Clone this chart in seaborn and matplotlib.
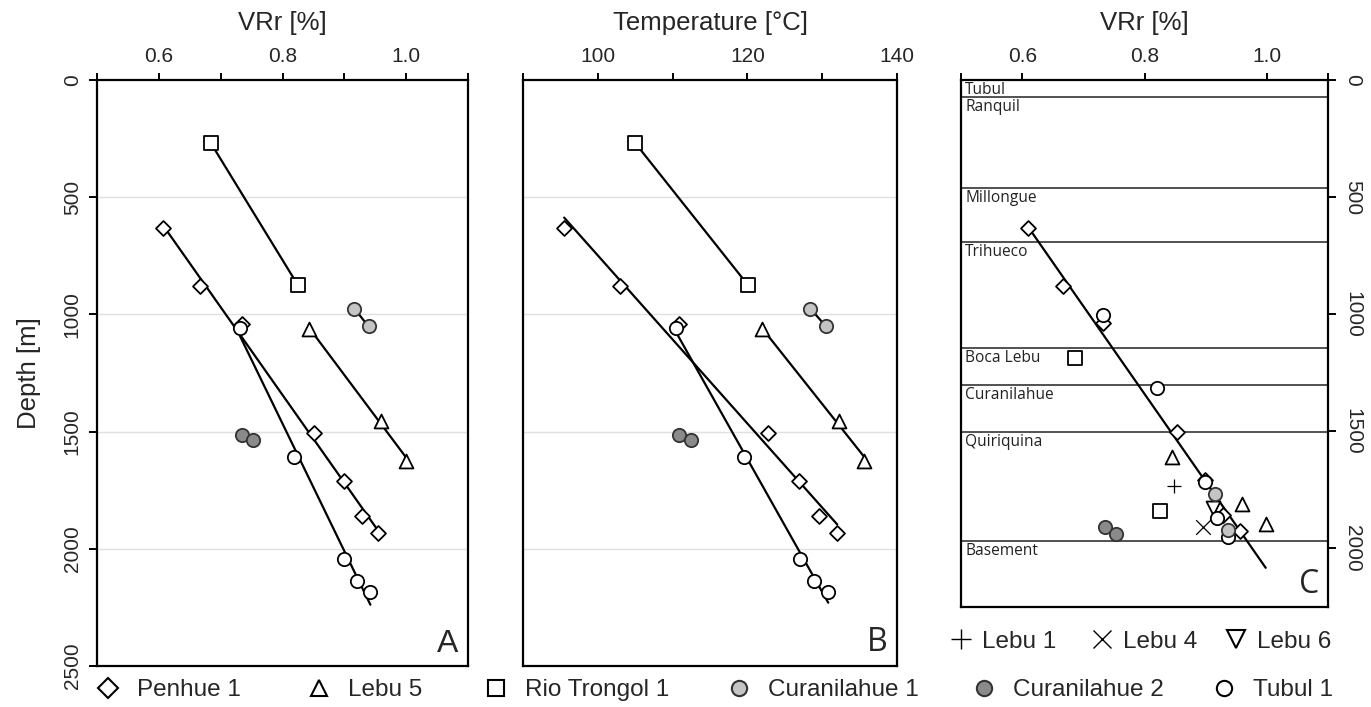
import numpy as np
import pandas as pd
import matplotlib
matplotlib.use("Agg")
import matplotlib.pyplot as plt
from matplotlib.lines import Line2D
import seaborn as sns

# ---------------- data ----------------
# Panels A and B: VRr [%], temperature [°C] and depth [m] per well
penhue_depth = [633, 880, 1040, 1504, 1709, 1859, 1932]
penhue_vr = [0.607, 0.666, 0.734, 0.851, 0.899, 0.928, 0.955]
penhue_temp = [95.5, 102.9, 110.8, 122.7, 126.9, 129.6, 132.0]

lebu5_depth = [1062, 1453, 1624]
lebu5_vr = [0.843, 0.960, 1.000]
lebu5_temp = [121.9, 132.3, 135.6]

rio_depth = [269, 876]
rio_vr = [0.684, 0.825]
rio_temp = [105.0, 120.1]

cur1_depth = [975, 1051]
cur1_vr = [0.916, 0.939]
cur1_temp = [128.4, 130.5]

cur2_depth = [1513, 1534]
cur2_vr = [0.734, 0.752]
cur2_temp = [110.8, 112.5]

tubul_depth = [1060, 1610, 2043, 2137, 2184]
tubul_vr = [0.731, 0.819, 0.900, 0.921, 0.942]
tubul_temp = [110.5, 119.5, 127.0, 128.9, 130.8]

# Panel C: VRr vs depth (all wells)
c_penhue_vr = [0.609, 0.667, 0.732, 0.853, 0.899, 0.928, 0.956]
c_penhue_depth = [632, 880, 1038, 1504, 1709, 1859, 1927]
c_tubul_vr = [0.732, 0.820, 0.899, 0.918, 0.936]
c_tubul_depth = [1004, 1316, 1718, 1872, 1953]
c_lebu5_vr = [0.845, 0.959, 0.998]
c_lebu5_depth = [1611, 1812, 1897]
c_rio_vr = [0.686, 0.825]
c_rio_depth = [1188, 1838]
c_cur1_vr = [0.915, 0.936]
c_cur1_depth = [1769, 1919]
c_cur2_vr = [0.735, 0.753]
c_cur2_depth = [1910, 1940]
c_lebu1_vr = [0.848]
c_lebu1_depth = [1735]
c_lebu4_vr = [0.895]
c_lebu4_depth = [1910]
c_lebu6_vr = [0.912]
c_lebu6_depth = [1829]

formation_names = ["Tubul", "Ranquil", "Millongue", "Trihueco", "Boca Lebu",
                   "Curanilahue", "Quiriquina", "Basement"]
formation_tops = [0, 73, 460, 693, 1142, 1300, 1504, 1966]

vr_ticks = [0.5, 0.6, 0.7, 0.8, 0.9, 1.0, 1.1]
vr_labels = ["", "0.6", "", "0.8", "", "1.0", ""]
vr_ticks_c = [0.5, 0.6, 0.8, 1.0, 1.1]
vr_labels_c = ["", "0.6", "0.8", "1.0", ""]
temp_ticks = [90, 100, 110, 120, 130, 140]
temp_labels = ["", "100", "", "120", "", "140"]
depth_ticks = [0, 500, 1000, 1500, 2000, 2500]
depth_ticks_c = [0, 500, 1000, 1500, 2000]

# ---------------- style ----------------
sns.set_theme(style="white")
plt.rcParams["font.family"] = ["Liberation Sans", "DejaVu Sans"]

LIGHT = "#c4c4c4"
DARK = "#8a8a8a"
EW = 1.3

styles = {
    "Penhue 1": dict(marker="D", s=58, color="white", edgecolor="black", linewidth=EW),
    "Lebu 5": dict(marker="^", s=100, color="white", edgecolor="black", linewidth=EW),
    "Rio Trongol 1": dict(marker="s", s=110, color="white", edgecolor="black", linewidth=EW),
    "Curanilahue 1": dict(marker="o", s=92, color=LIGHT, edgecolor="#333333", linewidth=EW),
    "Curanilahue 2": dict(marker="o", s=92, color=DARK, edgecolor="#333333", linewidth=EW),
    "Tubul 1": dict(marker="o", s=92, color="white", edgecolor="black", linewidth=EW),
    "Lebu 1": dict(marker="+", s=110, color="black", linewidth=0.9),
    "Lebu 4": dict(marker="x", s=110, color="black", linewidth=0.9),
    "Lebu 6": dict(marker="v", s=100, color="white", edgecolor="black", linewidth=EW),
}

fig = plt.figure(figsize=(13.71, 7.07), dpi=100)
axA = fig.add_axes([0.0708, 0.058, 0.2706, 0.8288])
axB = fig.add_axes([0.3815, 0.058, 0.2728, 0.8288])
axC = fig.add_axes([0.7010, 0.1414, 0.2677, 0.7454])

TICK_FS = 15
LAB_FS = 18.5


def frame(ax):
    for sp in ax.spines.values():
        sp.set_visible(True)
        sp.set_color("black")
        sp.set_linewidth(1.6)
    ax.xaxis.tick_top()
    ax.xaxis.set_label_position("top")
    ax.tick_params(axis="x", which="both", direction="out", length=5, width=1.4,
                   color="black", labelsize=TICK_FS, pad=5, top=True, bottom=False)


def fit(ax, x, y):
    sns.regplot(x=np.asarray(x), y=np.asarray(y), ax=ax, scatter=False, ci=None,
                truncate=True, color="black", line_kws=dict(linewidth=1.6, zorder=2))


def pts(ax, x, y, name):
    sns.scatterplot(x=np.asarray(x), y=np.asarray(y), ax=ax, zorder=3, legend=False,
                    **styles[name])


# ---------------- panel A ----------------
for d, v in [(rio_depth, rio_vr), (penhue_depth, penhue_vr), (tubul_depth, tubul_vr),
             (lebu5_depth, lebu5_vr), (cur1_depth, cur1_vr)]:
    fit(axA, v, d)
for d, v, n in [
    (rio_depth, rio_vr, "Rio Trongol 1"),
    (penhue_depth, penhue_vr, "Penhue 1"),
    (lebu5_depth, lebu5_vr, "Lebu 5"),
    (cur1_depth, cur1_vr, "Curanilahue 1"),
    (cur2_depth, cur2_vr, "Curanilahue 2"),
    (tubul_depth, tubul_vr, "Tubul 1"),
]:
    pts(axA, v, d, n)

frame(axA)
axA.set_xlim(0.5, 1.1)
axA.set_ylim(2500, 0)
axA.set_xticks(vr_ticks)
axA.set_xticklabels(vr_labels)
axA.set_yticks(depth_ticks)
axA.set_yticklabels([str(t) for t in depth_ticks], rotation=90, va="center")
axA.tick_params(axis="y", direction="out", length=6, width=1.4, color="black",
                labelsize=TICK_FS, pad=5, left=True)
axA.set_xlabel("VRr [%]", fontsize=LAB_FS, labelpad=12)
axA.set_ylabel("Depth [m]", fontsize=LAB_FS, labelpad=16)
for yv in depth_ticks[1:-1]:
    axA.axhline(yv, color="#e0e0e0", linewidth=1.0, zorder=0)
axA.text(0.975, 0.012, "A", transform=axA.transAxes, ha="right", va="bottom",
         fontsize=23)

# ---------------- panel B ----------------
for d, t in [(rio_depth, rio_temp), (penhue_depth, penhue_temp),
             (tubul_depth, tubul_temp), (lebu5_depth, lebu5_temp),
             (cur1_depth, cur1_temp)]:
    fit(axB, t, d)
for d, t, n in [
    (rio_depth, rio_temp, "Rio Trongol 1"),
    (penhue_depth, penhue_temp, "Penhue 1"),
    (lebu5_depth, lebu5_temp, "Lebu 5"),
    (cur1_depth, cur1_temp, "Curanilahue 1"),
    (cur2_depth, cur2_temp, "Curanilahue 2"),
    (tubul_depth, tubul_temp, "Tubul 1"),
]:
    pts(axB, t, d, n)

frame(axB)
axB.set_xlim(90, 140)
axB.set_ylim(2500, 0)
axB.set_xticks(temp_ticks)
axB.set_xticklabels(temp_labels)
axB.set_yticks([])
axB.set_ylabel("")
axB.set_xlabel("Temperature [°C]", fontsize=LAB_FS, labelpad=12)
for yv in depth_ticks[1:-1]:
    axB.axhline(yv, color="#e0e0e0", linewidth=1.0, zorder=0)
axB.text(0.975, 0.012, "B", transform=axB.transAxes, ha="right", va="bottom",
         fontsize=23, family=["Open Sans", "DejaVu Sans"])

# ---------------- panel C ----------------
c_all_vr = np.array(c_penhue_vr + c_tubul_vr + c_lebu5_vr + c_rio_vr + c_cur1_vr
                    + c_cur2_vr + c_lebu1_vr + c_lebu4_vr + c_lebu6_vr)
# trend line: least-squares fit of the Penhue 1 profile, drawn across the data range
slope, intercept = np.polyfit(c_penhue_vr, c_penhue_depth, 1)
trend_x = np.array([min(c_penhue_vr), c_all_vr.max()])
sns.lineplot(x=trend_x, y=slope * trend_x + intercept, ax=axC, color="black",
             linewidth=1.6, zorder=2, sort=False, estimator=None)

for v, d, n in [
    (c_rio_vr, c_rio_depth, "Rio Trongol 1"),
    (c_lebu5_vr, c_lebu5_depth, "Lebu 5"),
    (c_lebu1_vr, c_lebu1_depth, "Lebu 1"),
    (c_lebu4_vr, c_lebu4_depth, "Lebu 4"),
    (c_lebu6_vr, c_lebu6_depth, "Lebu 6"),
    (c_penhue_vr, c_penhue_depth, "Penhue 1"),
    (c_cur2_vr, c_cur2_depth, "Curanilahue 2"),
    (c_tubul_vr, c_tubul_depth, "Tubul 1"),
    (c_cur1_vr, c_cur1_depth, "Curanilahue 1"),
]:
    pts(axC, v, d, n)

frame(axC)
axC.set_xlim(0.5, 1.1)
axC.set_ylim(2250, 0)
axC.set_xticks(vr_ticks_c)
axC.set_xticklabels(vr_labels_c)
axC.yaxis.tick_right()
axC.set_yticks(depth_ticks_c)
axC.set_yticklabels([str(t) for t in depth_ticks_c], rotation=270, va="center")
axC.tick_params(axis="y", direction="out", length=6, width=1.4, color="black",
                labelsize=TICK_FS, pad=5, right=True, left=False)
axC.set_ylabel("")
axC.set_xlabel("VRr [%]", fontsize=LAB_FS, labelpad=12)

for name, top in zip(formation_names, formation_tops):
    if top > 0:
        axC.axhline(top, color="#333333", linewidth=1.2, zorder=1)
    axC.annotate(name, xy=(0, top), xycoords=("axes fraction", "data"),
                 xytext=(3, -1.5), textcoords="offset points", ha="left", va="top",
                 fontsize=11.2, family=["Open Sans", "DejaVu Sans"], color="#222222")
axC.text(0.975, 0.012, "C", transform=axC.transAxes, ha="right", va="bottom",
         fontsize=23, family=["Open Sans", "DejaVu Sans"])

# ---------------- legends ----------------
def handle(name, ms):
    st = styles[name]
    mk = st["marker"]
    if mk in ("+", "x"):
        return Line2D([], [], marker=mk, linestyle="none", color="black",
                      markersize=ms, markeredgewidth=1.0)
    return Line2D([], [], marker=mk, linestyle="none", markerfacecolor=st["color"],
                  markeredgecolor=st["edgecolor"], markersize=ms, markeredgewidth=1.5)


legend_entries = [
    ("Penhue 1", 10, 0.070, 0.008, 0.7),
    ("Lebu 5", 12, 0.224, 0.008, 0.7),
    ("Rio Trongol 1", 12, 0.353, 0.008, 0.7),
    ("Curanilahue 1", 11, 0.530, 0.008, 0.7),
    ("Curanilahue 2", 11, 0.709, 0.008, 0.7),
    ("Tubul 1", 11, 0.884, 0.008, 0.7),
    ("Lebu 1", 14, 0.692, 0.077, 0.35),
    ("Lebu 4", 13, 0.795, 0.077, 0.35),
    ("Lebu 6", 13, 0.893, 0.077, 0.35),
]
for name, ms, x0, y0, pad in legend_entries:
    fig.legend(handles=[handle(name, ms)], labels=[name], loc="lower left",
               bbox_to_anchor=(x0, y0), frameon=False, fontsize=17.5,
               handlelength=1.0, handletextpad=pad, borderpad=0.0,
               borderaxespad=0.0)

fig.savefig("out.png", dpi=100)
